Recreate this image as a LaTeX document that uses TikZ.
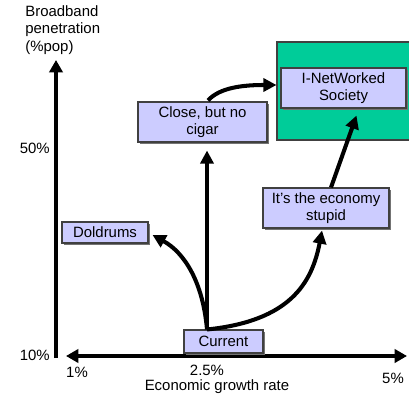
\documentclass[tikz,border=0pt]{standalone}
\usepackage{fontspec}
\setmainfont{Liberation Sans}
\usetikzlibrary{arrows.meta, shadows, calc}
\definecolor{boxfill}{RGB}{204,204,255}
\definecolor{netgreen}{RGB}{0,204,153}
\tikzset{
  scenario/.style={draw=black!75, fill=boxfill, line width=0.6pt, inner sep=0pt,
    align=center, drop shadow={shadow xshift=1.3pt, shadow yshift=-1.3pt, fill=black!55, opacity=1}},
  move/.style={line width=2.3pt, -{Triangle[length=7.5pt, width=7.5pt]}},
  axis/.style={line width=2.3pt},
  lbl/.style={inner sep=0pt}
}

\begin{document}
\begin{tikzpicture}[x=0.02cm, y=0.02cm, font=\fontsize{8.5}{10}\selectfont]
\useasboundingbox (0,0) rectangle (409,393);

% axes
\coordinate (ybot) at (56,35);
\coordinate (ytop) at (56,333);
\coordinate (xleft) at (66,37);
\coordinate (xright) at (407,37);
\draw[axis, -{Triangle[length=7pt, width=7.5pt]}] (ybot) -- (ytop);
\draw[axis, {Triangle[length=7pt, width=7.5pt]}-{Triangle[length=7pt, width=7.5pt]}] (xleft) -- (xright);

\node[lbl, anchor=north west, align=left] (ylabel) at (25,388) {Broadband\\penetration\\(\%pop)};
\node[lbl, anchor=east] (y50) at (50,245) {50\%};
\node[lbl, anchor=east] (y10) at (50,38) {10\%};
\node[lbl] (x1) at (77,21) {1\%};
\node[lbl] (x25) at (207,23) {2.5\%};
\node[lbl] (x5) at (393,15) {5\%};
\node[lbl] (xlabel) at (217,6) {Economic growth rate};

% target region
\node[draw=black!75, fill=netgreen, line width=0.6pt, minimum width=135*0.02cm, minimum height=98*0.02cm] (green) at (344.5,302) {};

% scenarios
\node[scenario, minimum width=125*0.02cm, minimum height=40*0.02cm] (net) at (343.5,305) {I-NetWorked\\Society};
\node[scenario, minimum width=129*0.02cm, minimum height=40*0.02cm] (close) at (202.5,271) {Close, but no\\cigar};
\node[scenario, minimum width=126*0.02cm, minimum height=40*0.02cm] (econ) at (326,185) {It's the economy\\stupid};
\node[scenario, minimum width=86*0.02cm, minimum height=21*0.02cm] (dold) at (105,160.5) {Doldrums};
\node[scenario, minimum width=79*0.02cm, minimum height=23*0.02cm] (cur) at (223.5,51.5) {Current};

\coordinate (hub) at ($(cur.north)+(-16.5,0)$);

% moves
\draw[move, shorten >=0.16cm] (hub) -- (hub |- close.south);
\draw[move] (hub) .. controls (203,110) and (185,140) .. ($(dold.east)+(4,-2.5)$);
\draw[move] (hub) .. controls (290,72) and (312,110) .. ($(econ.south)+(-4,-2)$);
\draw[move] ($(close.north)+(5.5,1)$) .. controls (220,306) and (245,308) .. ($(green.west)+(0,6)$);
\draw[move] ($(econ.north)+(5,0)$) -- ($(net.south)+(13,-7)$);
\end{tikzpicture}
\end{document}
